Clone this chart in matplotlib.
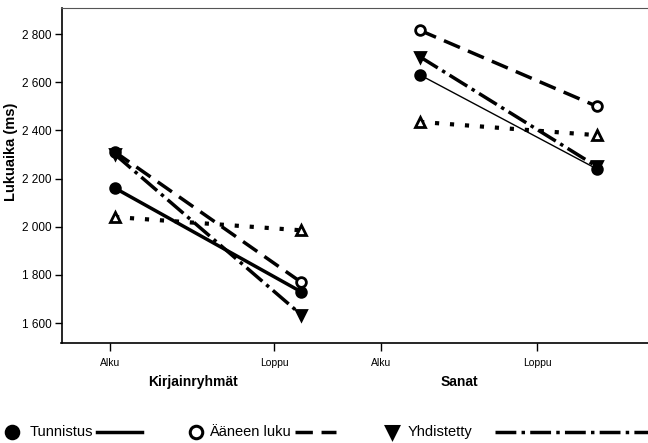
import matplotlib
matplotlib.use("Agg")
import matplotlib.pyplot as plt
from matplotlib.lines import Line2D
from matplotlib.ticker import FuncFormatter

plt.rcParams['font.family'] = ['Liberation Sans', 'DejaVu Sans']

# Data (ms), order: Kirjainryhmät Alku, Loppu, Sanat Alku, Loppu
groups = ["Kirjainryhmät", "Sanat"]
phases = ["Alku", "Loppu"]
tunnistus = [2160, 1730, 2630, 2240]
aaneen_luku = [2310, 1770, 2815, 2500]
yhdistetty = [2300, 1635, 2705, 2250]
hiljainen = [2040, 1985, 2435, 2380]

# layout: x positions of points and of tick labels
point_x = [1.0, 2.0, 2.64, 3.59]
tick_x = [0.973, 1.855, 2.43, 3.27]
group_x = [1.42, 2.85]

W, H = 648, 443
fig = plt.figure(figsize=(W / 100, H / 100), dpi=100)
ax = fig.add_axes([61.5 / W, (H - 343) / H, 1 - 61.5 / W, 335 / H])

series = [
    (tunnistus, dict(color='black', linestyle='-', marker='o', markerfacecolor='black')),
    (aaneen_luku, dict(color='black', linestyle=(0, (5, 2.5)), marker='o', markerfacecolor='white')),
    (yhdistetty, dict(color='black', linestyle=(0, (6, 1.5, 1, 1.5)), marker='v', markerfacecolor='black')),
    (hiljainen, dict(color='black', linestyle=(0, (1, 2.6)), marker='^', markerfacecolor='white')),
]

for vals, style in series:
    for g in range(2):
        xs = point_x[2 * g:2 * g + 2]
        ys = vals[2 * g:2 * g + 2]
        lw = 2.5
        if vals is tunnistus and g == 1:
            lw = 1.0
        if vals is hiljainen:
            lw = 3.0
        ax.plot(xs, ys, lw=lw, markersize=7, markeredgewidth=2,
                markeredgecolor='black', dash_capstyle='butt', **style)

ax.set_xlim(0.7124, 3.8656)
ax.set_ylim(1517, 2908)
ax.set_yticks([1600, 1800, 2000, 2200, 2400, 2600, 2800])
ax.yaxis.set_major_formatter(FuncFormatter(lambda v, p: f"{v:,.0f}".replace(",", " ")))
ax.set_xticks(tick_x)
ax.set_xticklabels(phases * 2)
ax.tick_params(axis='y', direction='out', length=5, width=1, labelsize=8.5, pad=2)
ax.tick_params(axis='x', direction='out', length=6, width=1, labelsize=7.5, pad=5)
ax.spines['right'].set_visible(False)
for s in ['left', 'bottom']:
    ax.spines[s].set_linewidth(1.2)
ax.spines['top'].set_linewidth(0.8)
ax.spines['top'].set_color('#555555')

ax.set_ylabel("Lukuaika (ms)", fontsize=10.5, fontweight='bold')
ax.yaxis.set_label_coords((18 - 61.5) / (W - 61.5), 0.57)

for gx, name in zip(group_x, groups):
    ax.text(gx, -0.115, name, transform=ax.get_xaxis_transform(),
            ha='center', va='center', fontsize=10, fontweight='bold')

# legend row along the bottom edge
ly = (H - 432) / H
legend_items = [
    (12, 30, 97, 142, 'Tunnistus', series[0][1]),
    (196, 209, 295, 336, 'Ääneen luku', series[1][1]),
    (392, 408, 495, 660, 'Yhdistetty', series[2][1]),
]
for mx, tx, l0, l1, label, style in legend_items:
    fig.add_artist(Line2D([mx / W], [ly], transform=fig.transFigure,
                          marker=style['marker'], markersize=9, markeredgewidth=2.2,
                          markeredgecolor='black', markerfacecolor=style['markerfacecolor'],
                          linestyle='none'))
    fig.text(tx / W, ly, label, fontsize=10.5, va='center', ha='left')
    fig.add_artist(Line2D([l0 / W, l1 / W], [ly, ly], transform=fig.transFigure,
                          color='black', lw=2.5, linestyle=style['linestyle'],
                          dash_capstyle='butt'))

fig.savefig("out.png", dpi=100)
